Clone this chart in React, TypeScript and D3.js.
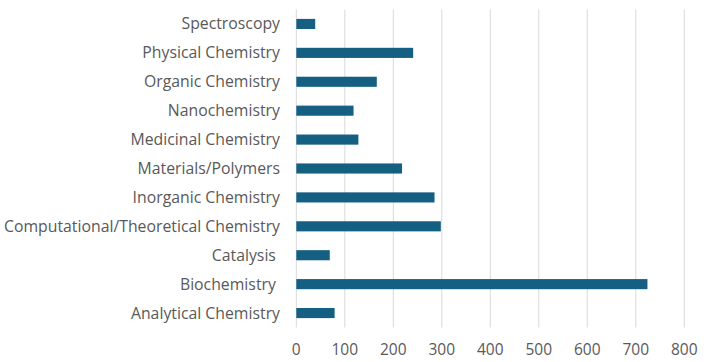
import React, { useEffect, useRef } from 'react';
import * as d3 from 'd3';

// categories top to bottom as they appear
const categories = [
  'Spectroscopy',
  'Physical Chemistry',
  'Organic Chemistry',
  'Nanochemistry',
  'Medicinal Chemistry',
  'Materials/Polymers',
  'Inorganic Chemistry',
  'Computational/Theoretical Chemistry',
  'Catalysis ',
  'Biochemistry ',
  'Analytical Chemistry',
];
const counts = [39, 241, 166, 118, 128, 218, 285, 298, 69, 724, 79];
const xTicks = [0, 100, 200, 300, 400, 500, 600, 700, 800];

const App = () => {
  const svgRef = useRef<SVGSVGElement>(null);

  useEffect(() => {
    const svg = d3.select(svgRef.current);
    svg.selectAll('*').remove();

    const width = 706;
    const height = 362;
    const margin = { top: 9.5, right: 22, bottom: 34.5, left: 296.3 };
    const font = '"Open Sans", sans-serif';

    const data = categories.map((c, i) => ({ cat: c, value: counts[i] }));

    const x = d3.scaleLinear()
      .domain([0, 800])
      .range([margin.left, 684.3]);

    const y = d3.scaleBand()
      .domain(categories)
      .range([margin.top, height - margin.bottom])
      .paddingInner(0.65)
      .paddingOuter(0.325);

    // gridlines
    svg.append('g')
      .selectAll('line')
      .data(xTicks)
      .join('line')
      .attr('x1', d => x(d))
      .attr('x2', d => x(d))
      .attr('y1', margin.top)
      .attr('y2', height - margin.bottom)
      .attr('stroke', '#d9d9d9')
      .attr('stroke-width', 1);

    svg.append('g')
      .attr('fill', '#156082')
      .selectAll('rect')
      .data(data)
      .join('rect')
      .attr('x', x(0))
      .attr('y', d => y(d.cat)!)
      .attr('width', d => x(d.value) - x(0))
      .attr('height', y.bandwidth());

    // x tick labels
    svg.append('g')
      .selectAll('text')
      .data(xTicks)
      .join('text')
      .attr('x', d => x(d))
      .attr('y', 350)
      .attr('dy', '0.35em')
      .attr('text-anchor', 'middle')
      .attr('font-family', font)
      .attr('font-size', 15.5)
      .attr('fill', '#595959')
      .text(d => d);

    // category labels
    svg.append('g')
      .selectAll('text')
      .data(data)
      .join('text')
      .attr('x', 280)
      .attr('y', d => y(d.cat)! + y.bandwidth() / 2)
      .attr('dy', '0.35em')
      .attr('text-anchor', 'end')
      .attr('font-family', font)
      .attr('font-size', 15.8)
      .attr('fill', '#595959')
      .style('white-space', 'pre')
      .text(d => d.cat);
  }, []);

  return (
    <svg
      ref={svgRef}
      width={706}
      height={362}
      style={{ position: 'absolute', left: 0, top: 0, background: '#fff' }}
    />
  );
};

export default App;
